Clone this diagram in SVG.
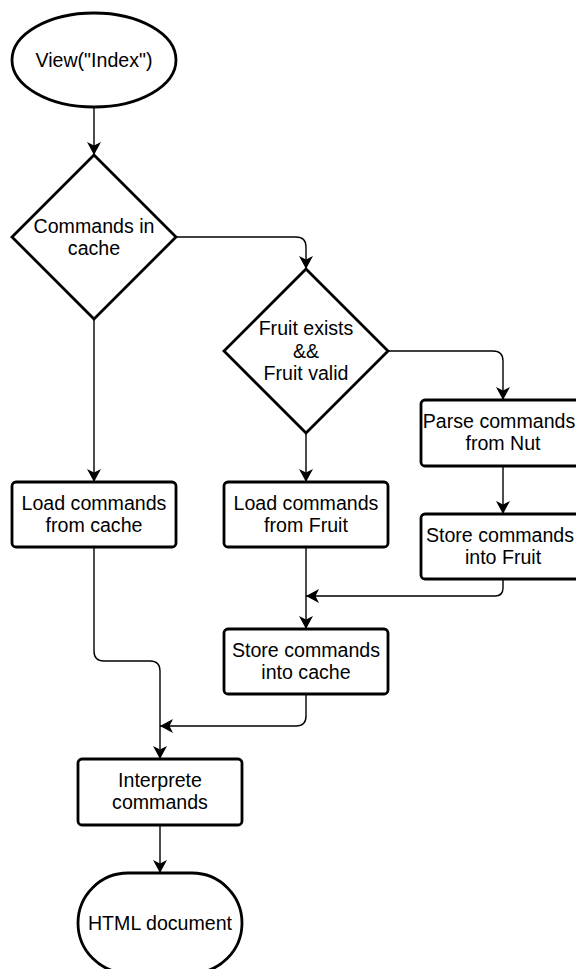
<svg xmlns="http://www.w3.org/2000/svg" width="576" height="969" viewBox="0 0 576 969">
  <style>
    .node { fill: #ffffff; stroke: #000000; stroke-width: 2.8; }
    .edge { fill: none; stroke: #000000; stroke-width: 1.4; }
    .lbl { font-family: "Liberation Sans", Arial, Helvetica, sans-serif; font-size: 19.6px; fill: #000000; text-anchor: middle; }
  </style>
  <defs>
    <marker id="arrow" markerUnits="userSpaceOnUse" markerWidth="16" markerHeight="16" refX="13" refY="7" orient="auto">
      <path d="M0,0 L13,7 L0,14 L3.5,7 Z" fill="#000000" stroke="none"/>
    </marker>
  </defs>
  <rect width="576" height="969" fill="#ffffff"/>

  <g id="connectors">
    <path class="edge" d="M94,107 L94,155" marker-end="url(#arrow)"/>
    <path class="edge" d="M176,237 L296,237 Q306,237 306,247 L306,269" marker-end="url(#arrow)"/>
    <path class="edge" d="M94,319 L94,482" marker-end="url(#arrow)"/>
    <path class="edge" d="M388,351 L493,351 Q503,351 503,361 L503,400" marker-end="url(#arrow)"/>
    <path class="edge" d="M306,433 L306,482" marker-end="url(#arrow)"/>
    <path class="edge" d="M503,466 L503,514" marker-end="url(#arrow)"/>
    <path class="edge" d="M503,579 L503,588 Q503,596 495,596 L306,596" marker-end="url(#arrow)"/>
    <path class="edge" d="M306,547 L306,629" marker-end="url(#arrow)"/>
    <path class="edge" d="M306,694 L306,716 Q306,726 296,726 L160,726" marker-end="url(#arrow)"/>
    <path class="edge" d="M94,547 L94,651 Q94,661 104,661 L150,661 Q160,661 160,671 L160,759" marker-end="url(#arrow)"/>
    <path class="edge" d="M160,825 L160,873" marker-end="url(#arrow)"/>
  </g>

  <g id="view-index">
    <ellipse class="node" cx="94" cy="60" rx="82" ry="47"/>
    <text class="lbl" x="94" y="67">View("Index")</text>
  </g>

  <g id="commands-in-cache">
    <polygon class="node" points="94,155 176,237 94,319 12,237"/>
    <text class="lbl" x="94" y="233">Commands in</text>
    <text class="lbl" x="94" y="255">cache</text>
  </g>

  <g id="fruit-exists-valid">
    <polygon class="node" points="306,269 388,351 306,433 224,351"/>
    <text class="lbl" x="306" y="335">Fruit exists</text>
    <text class="lbl" x="306" y="357.5">&amp;&amp;</text>
    <text class="lbl" x="306" y="380">Fruit valid</text>
  </g>

  <g id="load-from-cache">
    <rect class="node" x="12" y="482" width="164" height="65" rx="4"/>
    <text class="lbl" x="94" y="510">Load commands</text>
    <text class="lbl" x="94" y="532">from cache</text>
  </g>

  <g id="load-from-fruit">
    <rect class="node" x="224" y="482" width="164" height="65" rx="4"/>
    <text class="lbl" x="306" y="510">Load commands</text>
    <text class="lbl" x="306" y="532">from Fruit</text>
  </g>

  <g id="parse-from-nut">
    <rect class="node" x="421" y="400" width="164" height="66" rx="4"/>
    <text class="lbl" x="499" y="428">Parse commands</text>
    <text class="lbl" x="503" y="450">from Nut</text>
  </g>

  <g id="store-into-fruit">
    <rect class="node" x="421" y="514" width="164" height="65" rx="4"/>
    <text class="lbl" x="500" y="542">Store commands</text>
    <text class="lbl" x="503" y="564">into Fruit</text>
  </g>

  <g id="store-into-cache">
    <rect class="node" x="224" y="629" width="164" height="65" rx="4"/>
    <text class="lbl" x="306" y="657">Store commands</text>
    <text class="lbl" x="306" y="679">into cache</text>
  </g>

  <g id="interprete-commands">
    <rect class="node" x="78" y="759" width="164" height="66" rx="4"/>
    <text class="lbl" x="160" y="787">Interprete</text>
    <text class="lbl" x="160" y="809">commands</text>
  </g>

  <g id="html-document">
    <rect class="node" x="78" y="873" width="164" height="100" rx="50" ry="50"/>
    <text class="lbl" x="160" y="930">HTML document</text>
  </g>
</svg>
